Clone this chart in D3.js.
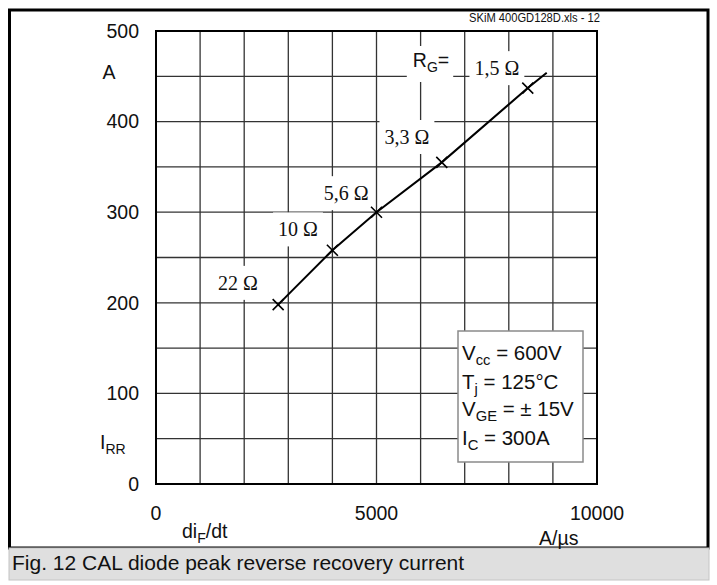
<!DOCTYPE html>
<html>
<head>
<meta charset="utf-8">
<script src="https://cdn.jsdelivr.net/npm/d3@7"></script>
<style>
  body { margin: 0; background: #fff; }
  svg { display: block; }
  text { font-family: "Liberation Sans", Arial, sans-serif; fill: #111; }
  .serif { font-family: "Liberation Serif", "Times New Roman", serif; }
</style>
</head>
<body>
<div id="chart"></div>
<script>
// Peak reverse recovery current vs. diF/dt
var difdt = [2770, 4000, 5000, 6480, 8430, 8860];
var irr = [198, 258, 300, 355, 437, 454];
// the last point is only the end of the drawn line, it has no cross
var hasCross = [true, true, true, true, true, false];

// gate resistor labels along the curve (data coordinates)
var rgText = ["22 Ω", "10 Ω", "5,6 Ω", "3,3 Ω", "1,5 Ω"];
var rgX = [1860, 3220, 4310, 5690, 7730];
var rgY = [222, 281, 321, 383, 459];

var xTicks = [0, 5000, 10000];
var yTicks = [0, 100, 200, 300, 400, 500];

// test conditions: main letter, subscript, rest
var condMain = ["V", "T", "V", "I"];
var condSub = ["cc", "j", "GE", "C"];
var condRest = [" = 600V", " = 125°C", " = ± 15V", " = 300A"];

var svgWidth = 717;
var svgHeight = 585;
var margin = {top: 31, left: 156};
var width = 441;
var height = 453;

var svg = d3.select("#chart")
  .append("svg")
  .attr("width", svgWidth)
  .attr("height", svgHeight);

// outer frame and caption band
svg.append("rect")
  .attr("x", 9.5).attr("y", 10)
  .attr("width", 698.5).attr("height", 538)
  .attr("fill", "none")
  .attr("stroke", "#000")
  .attr("stroke-width", 3);

svg.append("rect")
  .attr("x", 9).attr("y", 548)
  .attr("width", 700).attr("height", 32)
  .attr("fill", "#dfdfdf")
  .attr("stroke", "#c4c4c4")
  .attr("stroke-width", 1);

svg.append("text")
  .attr("x", 12).attr("y", 563)
  .attr("dy", "0.35em")
  .style("font-size", "21px")
  .text("Fig. 12 CAL diode peak reverse recovery current");

svg.append("text")
  .attr("x", 600).attr("y", 22)
  .attr("text-anchor", "end")
  .attr("textLength", 131)
  .attr("lengthAdjust", "spacingAndGlyphs")
  .style("font-size", "12px")
  .text("SKiM 400GD128D.xls - 12");

var x = d3.scaleLinear()
  .domain([0, 10000])
  .range([margin.left, margin.left + width]);

var y = d3.scaleLinear()
  .domain([0, 500])
  .range([margin.top + height, margin.top]);

// grid
var grid = svg.append("g")
  .attr("stroke", "#333")
  .attr("stroke-width", 1.3);

grid.selectAll(".vg")
  .data(d3.range(1000, 10000, 1000))
  .enter()
  .append("line")
  .attr("x1", d => x(d)).attr("x2", d => x(d))
  .attr("y1", y(0)).attr("y2", y(500));

grid.selectAll(".hg")
  .data(d3.range(50, 500, 50))
  .enter()
  .append("line")
  .attr("x1", x(0)).attr("x2", x(10000))
  .attr("y1", d => y(d)).attr("y2", d => y(d));

svg.append("rect")
  .attr("x", x(0)).attr("y", y(500))
  .attr("width", x(10000) - x(0))
  .attr("height", y(0) - y(500))
  .attr("fill", "none")
  .attr("stroke", "#000")
  .attr("stroke-width", 2);

// tick labels
svg.selectAll(".ytl")
  .data(yTicks)
  .enter()
  .append("text")
  .attr("x", 139)
  .attr("y", d => y(d))
  .attr("dy", "0.35em")
  .attr("text-anchor", "end")
  .style("font-size", "19.5px")
  .text(d => d);

svg.selectAll(".xtl")
  .data(xTicks)
  .enter()
  .append("text")
  .attr("x", d => x(d))
  .attr("y", 513)
  .attr("dy", "0.35em")
  .attr("text-anchor", "middle")
  .style("font-size", "19.5px")
  .text(d => d);

// axis titles
svg.append("text")
  .attr("x", 109).attr("y", 72)
  .attr("dy", "0.35em")
  .attr("text-anchor", "middle")
  .style("font-size", "19.5px")
  .text("A");

function subText(g, px, py, main, sub, rest, anchor, size) {
  size = size || 19.5;
  var t = g.append("text")
    .attr("x", px).attr("y", py)
    .attr("dy", "0.35em")
    .attr("text-anchor", anchor || "start")
    .style("font-size", size + "px");
  t.append("tspan").text(main);
  t.append("tspan").attr("dy", 5).style("font-size", (size * 0.72) + "px").text(sub);
  t.append("tspan").attr("dy", -5).text(rest);
  return t;
}

subText(svg, 100, 442, "I", "RR", "");
subText(svg, 182, 531, "di", "F", "/dt");
svg.append("text")
  .attr("x", 539).attr("y", 538)
  .attr("dy", "0.35em")
  .style("font-size", "19.5px")
  .text("A/µs");

// resistor labels with white boxes that cut the grid
var lab = svg.append("g");
rgText.forEach(function (s, i) {
  var t = lab.append("text")
    .attr("class", "serif")
    .attr("x", x(rgX[i]))
    .attr("y", y(rgY[i]))
    .attr("dy", "0.35em")
    .attr("text-anchor", "middle")
    .style("font-size", "20px")
    .text(s);
  var b = t.node().getBBox();
  lab.insert("rect", "text")
    .attr("x", b.x - 5).attr("y", y(rgY[i]) - 17)
    .attr("width", b.width + 10).attr("height", 34)
    .attr("fill", "#fff");
});

var rg = subText(lab, x(6236), y(468), "R", "G", "=", "middle");
var rb = rg.node().getBBox();
lab.insert("rect", "text")
  .attr("x", rb.x - 6).attr("y", y(468) - 14)
  .attr("width", rb.width + 10).attr("height", 36)
  .attr("fill", "#fff");

// conditions box
svg.append("rect")
  .attr("x", 458).attr("y", 331)
  .attr("width", 125).attr("height", 131)
  .attr("fill", "#fff")
  .attr("stroke", "#8a8a8a")
  .attr("stroke-width", 1.5);

var condY = [353, 382, 409, 438];
condMain.forEach(function (m, i) {
  subText(svg, 462, condY[i], m, condSub[i], condRest[i], "start", 20.5);
});

// curve
var pts = difdt.map((d, i) => [d, irr[i]]);

svg.append("path")
  .datum(pts)
  .attr("fill", "none")
  .attr("stroke", "#000")
  .attr("stroke-width", 2)
  .attr("d", d3.line().x(d => x(d[0])).y(d => y(d[1])));

var s = 5.5;
svg.selectAll(".cross")
  .data(pts.filter((d, i) => hasCross[i]))
  .enter()
  .append("path")
  .attr("fill", "none")
  .attr("stroke", "#000")
  .attr("stroke-width", 1.6)
  .attr("d", function (d) {
    var cx = x(d[0]), cy = y(d[1]);
    return `M${cx - s},${cy - s}L${cx + s},${cy + s}M${cx - s},${cy + s}L${cx + s},${cy - s}`;
  });
</script>
</body>
</html>
